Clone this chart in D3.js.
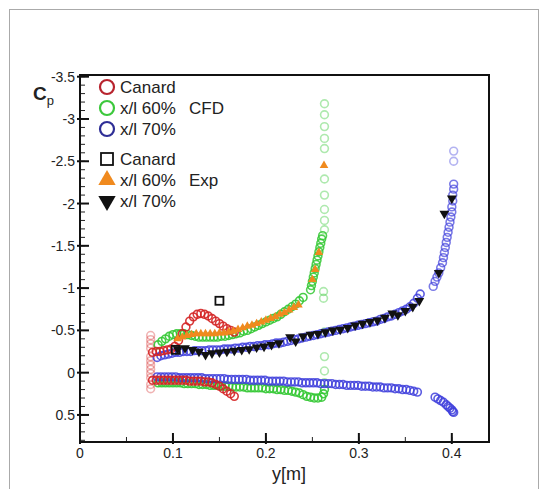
<!DOCTYPE html>
<html><head><meta charset="utf-8">
<script src="https://cdn.jsdelivr.net/npm/d3@7"></script>
<style>body{margin:0;background:#fff}svg{display:block}text{font-family:"Liberation Sans",Arial,sans-serif;fill:#222}</style>
</head><body><svg id="c" width="548" height="489"></svg>
<script>
// ---------- data: [y (m), Cp] ----------
const redUpper = [[0.078,-0.24],[0.082,-0.25],[0.086,-0.25],[0.090,-0.26],[0.094,-0.27],[0.098,-0.28],[0.102,-0.31],[0.106,-0.38],[0.110,-0.46],[0.114,-0.54],[0.118,-0.61],[0.122,-0.66],[0.126,-0.69],[0.130,-0.70],[0.134,-0.69],[0.138,-0.67],[0.142,-0.64],[0.146,-0.61],[0.150,-0.58],[0.154,-0.55],[0.158,-0.52],[0.162,-0.50],[0.166,-0.48]];
const redLower = [[0.078,0.09],[0.082,0.09],[0.086,0.09],[0.090,0.09],[0.094,0.09],[0.098,0.09],[0.102,0.09],[0.106,0.09],[0.110,0.09],[0.114,0.09],[0.118,0.10],[0.122,0.10],[0.126,0.10],[0.130,0.10],[0.134,0.11],[0.138,0.11],[0.142,0.12],[0.146,0.14],[0.150,0.16],[0.154,0.19],[0.158,0.22],[0.162,0.25],[0.166,0.28]];
const redEdge = [[0.076,-0.44],[0.076,-0.39],[0.076,-0.34],[0.076,-0.29],[0.076,-0.19],[0.076,-0.14],[0.076,-0.09],[0.076,-0.04],[0.076,0.01],[0.076,0.06],[0.076,0.14],[0.076,0.19]];
const greenUpper = [[0.084,-0.33],[0.088,-0.37],[0.092,-0.40],[0.096,-0.43],[0.100,-0.45],[0.104,-0.46],[0.108,-0.46],[0.112,-0.46],[0.116,-0.45],[0.120,-0.44],[0.124,-0.43],[0.128,-0.42],[0.132,-0.42],[0.136,-0.42],[0.140,-0.42],[0.144,-0.42],[0.148,-0.42],[0.152,-0.43],[0.156,-0.43],[0.160,-0.44],[0.164,-0.45],[0.168,-0.46],[0.172,-0.47],[0.176,-0.49],[0.180,-0.50],[0.184,-0.52],[0.188,-0.54],[0.192,-0.56],[0.196,-0.58],[0.200,-0.60],[0.204,-0.62],[0.208,-0.64],[0.212,-0.66],[0.216,-0.69],[0.220,-0.72],[0.224,-0.75],[0.228,-0.78],[0.232,-0.81],[0.236,-0.85],[0.240,-0.89]];
const greenRise = [[0.248,-0.98],[0.249,-1.03],[0.250,-1.08],[0.251,-1.13],[0.252,-1.18],[0.253,-1.23],[0.254,-1.28],[0.255,-1.33],[0.256,-1.38],[0.257,-1.43],[0.258,-1.48],[0.259,-1.53],[0.260,-1.58],[0.261,-1.62]];
const greenEdge = [[0.263,-3.18],[0.263,-3.05],[0.263,-2.91],[0.263,-2.77],[0.263,-2.65],[0.263,-2.29],[0.263,-2.10],[0.263,-1.93],[0.263,-1.80],[0.263,-1.69],[0.262,-0.96],[0.262,-0.88],[0.263,-0.48],[0.263,-0.19],[0.263,-0.02],[0.263,0.12]];
const greenLower = [[0.084,0.12],[0.088,0.12],[0.092,0.12],[0.096,0.12],[0.100,0.12],[0.104,0.12],[0.108,0.12],[0.112,0.13],[0.116,0.13],[0.120,0.13],[0.124,0.13],[0.128,0.14],[0.132,0.14],[0.136,0.14],[0.140,0.15],[0.144,0.15],[0.148,0.15],[0.152,0.16],[0.156,0.16],[0.160,0.16],[0.164,0.17],[0.168,0.17],[0.172,0.17],[0.176,0.17],[0.180,0.18],[0.184,0.18],[0.188,0.18],[0.192,0.18],[0.196,0.18],[0.200,0.19],[0.204,0.19],[0.208,0.19],[0.212,0.20],[0.216,0.20],[0.220,0.21],[0.224,0.21],[0.228,0.22],[0.232,0.23],[0.236,0.24],[0.240,0.26],[0.244,0.28],[0.248,0.29],[0.252,0.30],[0.256,0.30],[0.260,0.29],[0.262,0.25],[0.263,0.20]];
const blueUpper = [[0.083,-0.18],[0.087,-0.20],[0.091,-0.21],[0.095,-0.22],[0.099,-0.23],[0.103,-0.24],[0.107,-0.24],[0.111,-0.25],[0.115,-0.25],[0.119,-0.25],[0.123,-0.26],[0.127,-0.26],[0.131,-0.26],[0.135,-0.26],[0.139,-0.27],[0.143,-0.27],[0.147,-0.27],[0.151,-0.27],[0.155,-0.28],[0.159,-0.28],[0.163,-0.28],[0.167,-0.29],[0.171,-0.29],[0.175,-0.30],[0.179,-0.30],[0.183,-0.31],[0.187,-0.31],[0.191,-0.32],[0.195,-0.32],[0.199,-0.33],[0.203,-0.33],[0.207,-0.34],[0.211,-0.35],[0.215,-0.35],[0.219,-0.36],[0.223,-0.37],[0.227,-0.38],[0.231,-0.39],[0.235,-0.40],[0.239,-0.41],[0.243,-0.42],[0.247,-0.43],[0.251,-0.44],[0.255,-0.45],[0.259,-0.46],[0.263,-0.47],[0.267,-0.48],[0.271,-0.49],[0.275,-0.50],[0.279,-0.51],[0.283,-0.52],[0.287,-0.53],[0.291,-0.54],[0.295,-0.55],[0.299,-0.56],[0.303,-0.57],[0.307,-0.58],[0.311,-0.59],[0.315,-0.60],[0.319,-0.61],[0.323,-0.63],[0.327,-0.64],[0.331,-0.66],[0.335,-0.67],[0.339,-0.69],[0.343,-0.71],[0.347,-0.73],[0.351,-0.75],[0.355,-0.78],[0.359,-0.82],[0.363,-0.88],[0.366,-0.93]];
const blueTip = [[0.380,-1.02],[0.382,-1.08],[0.384,-1.13],[0.386,-1.18],[0.388,-1.24],[0.390,-1.30],[0.391,-1.36],[0.392,-1.42],[0.393,-1.48],[0.394,-1.54],[0.395,-1.60],[0.396,-1.66],[0.397,-1.72],[0.398,-1.78],[0.399,-1.84],[0.400,-1.90],[0.400,-1.96],[0.401,-2.03],[0.401,-2.10],[0.402,-2.17],[0.402,-2.23]];
const blueEdge = [[0.402,-2.50],[0.402,-2.62]];
const blueLower = [[0.083,0.05],[0.087,0.05],[0.091,0.05],[0.095,0.05],[0.099,0.05],[0.103,0.05],[0.107,0.06],[0.111,0.06],[0.115,0.06],[0.119,0.06],[0.123,0.06],[0.127,0.06],[0.131,0.06],[0.135,0.07],[0.139,0.07],[0.143,0.07],[0.147,0.07],[0.151,0.07],[0.155,0.07],[0.159,0.08],[0.163,0.08],[0.167,0.08],[0.171,0.08],[0.175,0.08],[0.179,0.08],[0.183,0.09],[0.187,0.09],[0.191,0.09],[0.195,0.09],[0.199,0.09],[0.203,0.10],[0.207,0.10],[0.211,0.10],[0.215,0.10],[0.219,0.10],[0.223,0.11],[0.227,0.11],[0.231,0.11],[0.235,0.11],[0.239,0.12],[0.243,0.12],[0.247,0.12],[0.251,0.12],[0.255,0.12],[0.259,0.13],[0.263,0.13],[0.267,0.13],[0.271,0.13],[0.275,0.14],[0.279,0.14],[0.283,0.14],[0.287,0.15],[0.291,0.15],[0.295,0.15],[0.299,0.15],[0.303,0.16],[0.307,0.16],[0.311,0.16],[0.315,0.17],[0.319,0.17],[0.323,0.17],[0.327,0.18],[0.331,0.18],[0.335,0.18],[0.339,0.19],[0.343,0.19],[0.347,0.20],[0.351,0.20],[0.355,0.21],[0.359,0.22],[0.363,0.23]];
const blueLowerTip = [[0.382,0.29],[0.385,0.31],[0.388,0.33],[0.391,0.35],[0.394,0.38],[0.396,0.40],[0.398,0.42],[0.400,0.44],[0.401,0.46],[0.402,0.47]];
const expCanard = [[0.150,-0.85],[0.103,-0.27]];
const exp60 = [[0.105,-0.40],[0.110,-0.42],[0.115,-0.44],[0.120,-0.45],[0.125,-0.46],[0.130,-0.46],[0.135,-0.46],[0.140,-0.46],[0.145,-0.46],[0.150,-0.47],[0.155,-0.47],[0.160,-0.48],[0.165,-0.49],[0.170,-0.51],[0.175,-0.53],[0.180,-0.55],[0.185,-0.56],[0.190,-0.58],[0.195,-0.60],[0.200,-0.62],[0.205,-0.64],[0.210,-0.66],[0.215,-0.69],[0.220,-0.71],[0.225,-0.74],[0.230,-0.77],[0.235,-0.80],[0.250,-1.10],[0.253,-1.22],[0.257,-1.42],[0.2625,-2.45]];
const exp70 = [[0.105,-0.28],[0.113,-0.29],[0.121,-0.27],[0.128,-0.25],[0.135,-0.21],[0.142,-0.23],[0.150,-0.24],[0.158,-0.25],[0.166,-0.26],[0.174,-0.27],[0.182,-0.28],[0.190,-0.30],[0.198,-0.31],[0.206,-0.33],[0.214,-0.35],[0.226,-0.42],[0.232,-0.37],[0.240,-0.43],[0.248,-0.45],[0.256,-0.46],[0.264,-0.48],[0.272,-0.50],[0.280,-0.51],[0.288,-0.53],[0.296,-0.56],[0.304,-0.58],[0.312,-0.60],[0.320,-0.62],[0.328,-0.65],[0.336,-0.70],[0.342,-0.68],[0.350,-0.73],[0.358,-0.78],[0.365,-0.85],[0.386,-1.18],[0.392,-1.88],[0.400,-2.06]];
const xTicks = [0, 0.1, 0.2, 0.3, 0.4];
const xTickLabels = ["0", "0.1", "0.2", "0.3", "0.4"];
const yTicks = [-3.5, -3, -2.5, -2, -1.5, -1, -0.5, 0, 0.5];
const yTickLabels = ["-3.5", "-3", "-2.5", "-2", "-1.5", "-1", "-0.5", "0", "0.5"];
const legendCFD = ["Canard", "x/l 60%", "x/l 70%"];
const legendExp = ["Canard", "x/l 60%", "x/l 70%"];

// ---------- layout ----------
const L = 80, R = 489, T = 75, B = 442;
const x = d3.scaleLinear().domain([0, 0.44]).range([L, R]);
const y = d3.scaleLinear().domain([-3.52, 0.82]).range([T, B]);
const svg = d3.select("#c");

svg.append("rect").attr("x", 9.5).attr("y", 9.5).attr("width", 529).attr("height", 500)
  .attr("fill", "none").attr("stroke", "#aaa").attr("stroke-width", 1);

const COL = {red: "#d42424", green: "#34c834", blue: "#4040dc"};

function circles(data, color, opacity) {
  svg.append("g").selectAll("circle").data(data).join("circle")
    .attr("cx", d => x(d[0])).attr("cy", d => y(d[1])).attr("r", 3.9)
    .attr("fill", "none").attr("stroke", color).attr("stroke-width", 1.6)
    .attr("stroke-opacity", opacity);
}
circles(greenEdge, COL.green, 0.4);
circles(blueEdge, COL.blue, 0.4);
circles(redEdge, COL.red, 0.35);
circles(greenLower, COL.green, 0.9);
circles(blueLower, COL.blue, 0.85);
circles(blueLowerTip, COL.blue, 0.85);
circles(redLower, COL.red, 0.9);
circles(blueUpper, COL.blue, 0.85);
circles(blueTip, COL.blue, 0.7);
circles(greenUpper, COL.green, 0.9);
circles(greenRise, COL.green, 0.85);
circles(redUpper, COL.red, 0.9);

svg.append("g").selectAll("path").data(exp60).join("path")
  .attr("d", d3.symbol().type(d3.symbolTriangle).size(32)).attr("fill", "#f08a1e")
  .attr("transform", d => `translate(${x(d[0])},${y(d[1])})`);
svg.append("g").selectAll("path").data(exp70).join("path")
  .attr("d", d3.symbol().type(d3.symbolTriangle).size(42)).attr("fill", "#111")
  .attr("transform", d => `translate(${x(d[0])},${y(d[1])}) rotate(180)`);
svg.append("g").selectAll("rect").data(expCanard).join("rect")
  .attr("x", d => x(d[0]) - 4).attr("y", d => y(d[1]) - 4).attr("width", 8).attr("height", 8)
  .attr("fill", "none").attr("stroke", "#111").attr("stroke-width", 1.8);

// ---------- axes ----------
const ax = svg.append("g");
const xMinor = d3.range(0, 0.4401, 0.05);
const yMinor = d3.range(-35, 9).map(v => v / 10);
ax.selectAll(".xm").data(xMinor).join("line")
  .attr("x1", d => x(d)).attr("x2", d => x(d)).attr("y1", B).attr("y2", B - 5)
  .attr("stroke", "#222").attr("stroke-width", 1);
ax.selectAll(".ym").data(yMinor).join("line")
  .attr("x1", L).attr("x2", L + 5).attr("y1", d => y(d)).attr("y2", d => y(d))
  .attr("stroke", "#222").attr("stroke-width", 1);
ax.selectAll(".xM").data(xTicks).join("line")
  .attr("x1", d => x(d)).attr("x2", d => x(d)).attr("y1", B + 2).attr("y2", B - 9)
  .attr("stroke", "#111").attr("stroke-width", 2);
ax.selectAll(".yM").data(yTicks).join("line")
  .attr("x1", L - 3).attr("x2", L + 9).attr("y1", d => y(d)).attr("y2", d => y(d))
  .attr("stroke", "#111").attr("stroke-width", 2);
ax.append("rect").attr("x", L).attr("y", T).attr("width", R - L).attr("height", B - T)
  .attr("fill", "none").attr("stroke", "#111").attr("stroke-width", 2);

ax.selectAll(".xl").data(xTicks).join("text")
  .attr("x", d => x(d)).attr("y", 458).attr("text-anchor", "middle")
  .attr("font-size", 14).text((d, i) => xTickLabels[i]);
ax.selectAll(".yl").data(yTicks).join("text")
  .attr("x", 75).attr("y", d => y(d) + 5).attr("text-anchor", "end")
  .attr("font-size", 14).text((d, i) => yTickLabels[i]);

svg.append("text").attr("x", 289).attr("y", 480).attr("text-anchor", "middle")
  .attr("font-size", 18).text("y[m]");
const cp = svg.append("text").attr("x", 33).attr("y", 100).attr("font-size", 19).attr("font-weight", "bold");
cp.append("tspan").text("C");
cp.append("tspan").attr("font-size", 13).attr("font-weight", "normal").attr("dy", 5).text("p");

// ---------- legend ----------
const lg = svg.append("g");
const legCFDColors = ["#b8242e", "#3cc83c", "#2e2e96"];
legendCFD.forEach((t, i) => {
  const cy = 87 + i * 21;
  lg.append("circle").attr("cx", 107).attr("cy", cy).attr("r", 7)
    .attr("fill", "none").attr("stroke", legCFDColors[i]).attr("stroke-width", 2.2);
  lg.append("text").attr("x", 120).attr("y", cy + 6).attr("font-size", 17).text(t);
});
lg.append("text").attr("x", 189).attr("y", 114).attr("font-size", 17).text("CFD");
legendExp.forEach((t, i) => {
  const cy = 159 + i * 21;
  if (i === 0) {
    lg.append("rect").attr("x", 101).attr("y", cy - 6).attr("width", 12).attr("height", 12)
      .attr("fill", "none").attr("stroke", "#111").attr("stroke-width", 1.8);
  } else {
    lg.append("path").attr("d", d3.symbol().type(d3.symbolTriangle).size(130))
      .attr("fill", i === 1 ? "#f08a1e" : "#111")
      .attr("transform", `translate(107,${cy}) rotate(${i === 1 ? 0 : 180})`);
  }
  lg.append("text").attr("x", 120).attr("y", cy + 6).attr("font-size", 17).text(t);
});
lg.append("text").attr("x", 189).attr("y", 186).attr("font-size", 17).text("Exp");
</script></body></html>
